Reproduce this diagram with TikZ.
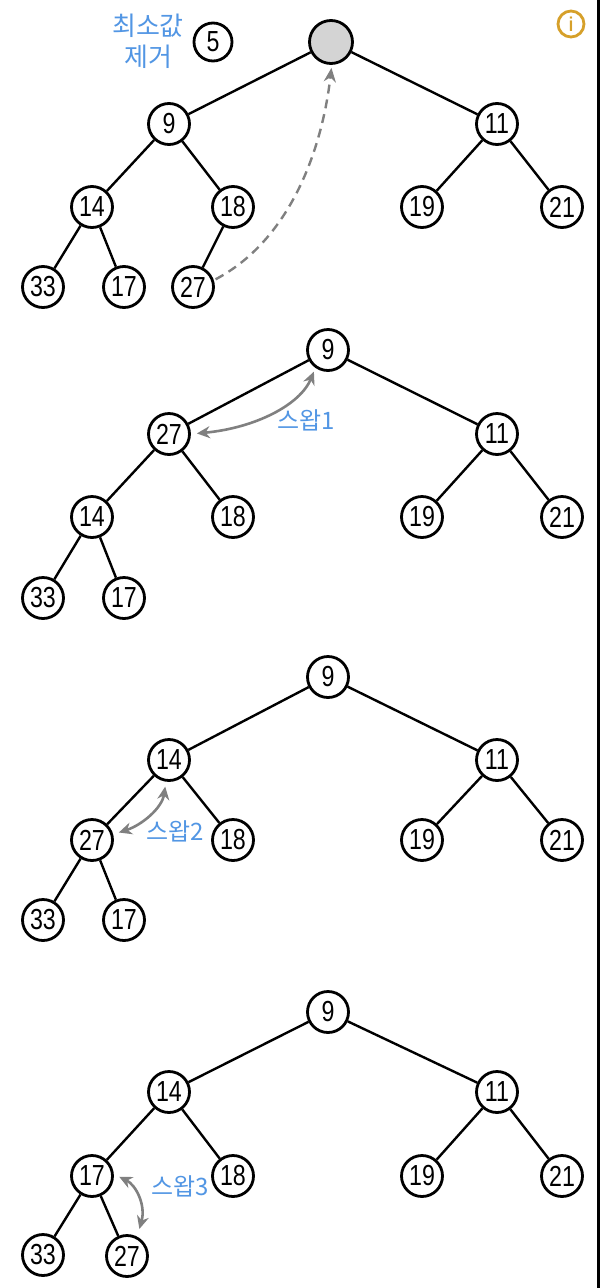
\documentclass[tikz,border=0pt]{standalone}
\usepackage{fontspec}
\setmainfont[FakeStretch=0.8]{Liberation Sans}
\newfontfamily\krfont{Noto Sans CJK KR}
\usetikzlibrary{arrows.meta,calc}
\definecolor{kblue}{RGB}{82,150,228}
\definecolor{korange}{RGB}{214,160,42}
\definecolor{kgray}{RGB}{128,128,128}
\definecolor{kfill}{RGB}{212,212,212}
\tikzset{
  hn/.style={circle, draw=black, line width=2.8pt, fill=white, minimum size=41pt, inner sep=0pt,
    font=\fontsize{29}{29}\selectfont},
  tedge/.style={line width=2.4pt},
  swp/.style={draw=kgray, line width=2.6pt, {Stealth[length=13pt,width=12pt]}-{Stealth[length=13pt,width=12pt]}},
  dsh/.style={draw=kgray, line width=2.4pt, dashed, dash pattern=on 9pt off 6pt, -{Stealth[length=14pt,width=12pt]}},
  lbl/.style={text=kblue, font=\krfont\fontsize{24}{30}\selectfont, align=center, inner sep=0pt}
}
\begin{document}
\begin{tikzpicture}[x=1pt,y=-1pt]
\useasboundingbox (0,0) rectangle (600,1288);
\fill[white] (0,0) rectangle (600,1288);
\fill[black] (597,0) rectangle (600,1288);

% info icon
\node[circle, draw=korange, line width=2.8pt, minimum size=26pt, inner sep=0pt, text=korange,
  font=\fontsize{20}{20}\selectfont\bfseries] (info) at (571,24) {i};

% ---------- Tree 1 ----------
\node[lbl, font=\krfont\fontsize{26}{31}\selectfont] (lab0) at (148,41) {최소값\\제거};
\node[hn, minimum size=38pt] (five) at (213,42) {5};
\node[hn, fill=kfill, minimum size=43pt] (ar) at (331,42) {};
\node[hn] (a9) at (169,124) {9};
\node[hn] (a11) at (497,124) {11};
\node[hn] (a14) at (92,207) {14};
\node[hn] (a18) at (233,207) {18};
\node[hn] (a19) at (422,207) {19};
\node[hn] (a21) at (562,207) {21};
\node[hn] (a33) at (43,287) {33};
\node[hn] (a17) at (124,287) {17};
\node[hn] (a27) at (193,287) {27};
\draw[tedge] (ar)--(a9) (ar)--(a11) (a9)--(a14) (a9)--(a18) (a11)--(a19) (a11)--(a21)
  (a14)--(a33) (a14)--(a17) (a18)--(a27);
\draw[dsh, shorten <=2pt, shorten >=3pt] (a27.18) .. controls (290,240) and (322,150) .. (ar.272);

% ---------- Tree 2 ----------
\node[hn] (b9) at (328,350) {9};
\node[hn] (b27) at (169,434) {27};
\node[hn] (b11) at (497,434) {11};
\node[hn] (b14) at (92,517) {14};
\node[hn] (b18) at (233,517) {18};
\node[hn] (b19) at (422,517) {19};
\node[hn] (b21) at (562,517) {21};
\node[hn] (b33) at (43,598) {33};
\node[hn] (b17) at (124,598) {17};
\draw[tedge] (b9)--(b27) (b9)--(b11) (b27)--(b14) (b27)--(b18) (b11)--(b19) (b11)--(b21)
  (b14)--(b33) (b14)--(b17);
\draw[swp, shorten <=6pt, shorten >=4pt] (b27.east) .. controls (255,428) and (300,405) .. (b9.235);
\node[lbl] (sw1) at (306,420) {스왑1};

% ---------- Tree 3 ----------
\node[hn] (c9) at (328,677) {9};
\node[hn] (c14) at (169,760) {14};
\node[hn] (c11) at (497,760) {11};
\node[hn] (c27) at (92,840) {27};
\node[hn] (c18) at (233,840) {18};
\node[hn] (c19) at (422,840) {19};
\node[hn] (c21) at (562,840) {21};
\node[hn] (c33) at (43,920) {33};
\node[hn] (c17) at (124,920) {17};
\draw[tedge] (c9)--(c14) (c9)--(c11) (c14)--(c27) (c14)--(c18) (c11)--(c19) (c11)--(c21)
  (c27)--(c33) (c27)--(c17);
\draw[swp, shorten <=6pt, shorten >=5pt] (c27.15) .. controls (142,825) and (162,808) .. (c14.262);
\node[lbl] (sw2) at (175,831) {스왑2};

% ---------- Tree 4 ----------
\node[hn] (d9) at (328,1012) {9};
\node[hn] (d14) at (169,1092) {14};
\node[hn] (d11) at (497,1092) {11};
\node[hn] (d17) at (92,1176) {17};
\node[hn] (d18) at (233,1176) {18};
\node[hn] (d19) at (422,1176) {19};
\node[hn] (d21) at (562,1176) {21};
\node[hn] (d33) at (43,1255) {33};
\node[hn] (d27) at (127,1256) {27};
\draw[tedge] (d9)--(d14) (d9)--(d11) (d14)--(d17) (d14)--(d18) (d11)--(d19) (d11)--(d21)
  (d17)--(d33) (d17)--(d27);
\draw[swp, shorten <=6pt, shorten >=8pt] (d17.5) .. controls (136,1185) and (146,1205) .. (d27.62);
\node[lbl] (sw3) at (180,1186) {스왑3};
\end{tikzpicture}
\end{document}
